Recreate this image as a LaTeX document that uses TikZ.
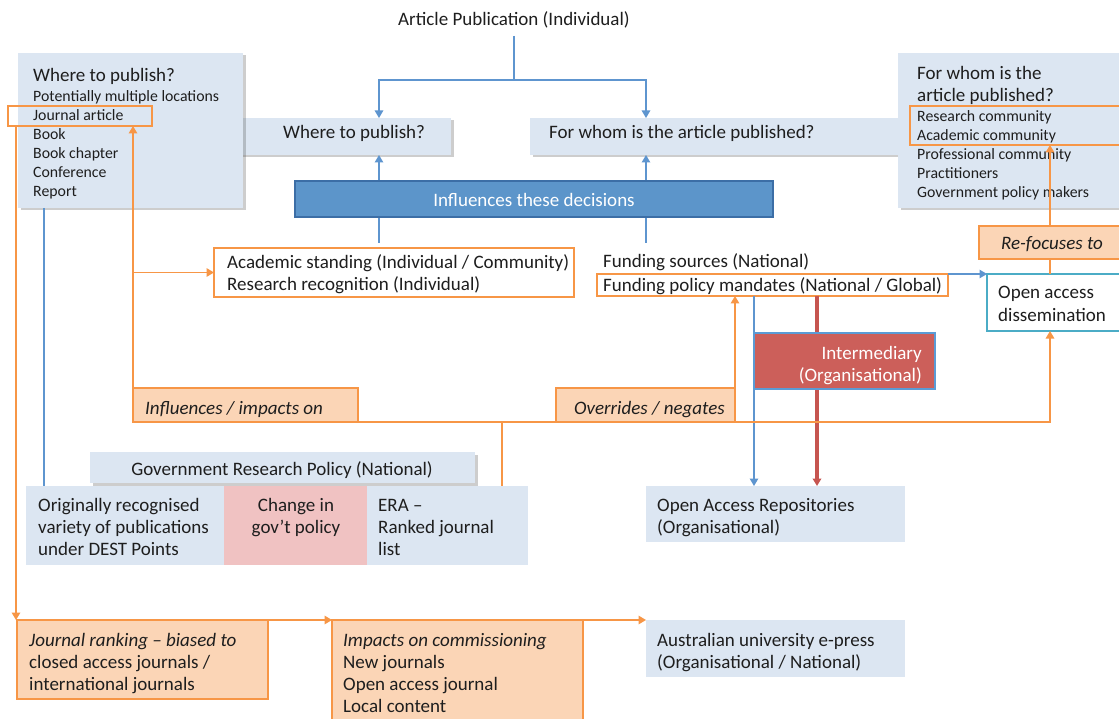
\documentclass[tikz,border=0pt]{standalone}
\usepackage{fontspec}
\setmainfont{Carlito}
\usetikzlibrary{arrows.meta,shadows}

\definecolor{palec}{HTML}{DCE6F2}
\definecolor{ofillc}{HTML}{FBD5B6}
\definecolor{olinec}{HTML}{F79646}
\definecolor{blinec}{HTML}{5E95CF}
\definecolor{itdfill}{HTML}{5C95CA}
\definecolor{itdline}{HTML}{3C6EA6}
\definecolor{interfill}{HTML}{CC5F5A}
\definecolor{interline}{HTML}{5B9BD5}
\definecolor{redlinec}{HTML}{C65550}
\definecolor{pinkc}{HTML}{F0C2C2}
\definecolor{oacyan}{HTML}{4BACC6}
\definecolor{txtc}{HTML}{1E1E1E}

\newcommand\mainsz{\fontsize{19}{22}\selectfont}
\newcommand\smallsz{\fontsize{15.8}{19}\selectfont}
\newcommand\rows[1]{\begin{tabular}[t]{@{}l@{}}#1\end{tabular}}
\newcommand\crows[1]{\begin{tabular}[t]{@{}c@{}}#1\end{tabular}}
\newcommand\rrows[1]{\begin{tabular}[t]{@{}r@{}}#1\end{tabular}}
% \panel{name}{style}{x1}{y1}{x2}{y2}: a box given by its corners
\newcommand\panel[6]{\node[panelbase,#2,minimum width={#5-#3},minimum height={#6-#4}] (#1) at (#3,#4) {};}

\begin{document}
\begin{tikzpicture}[x=1pt,y=-1pt,font=\mainsz,text=txtc,
  panelbase/.style={rectangle,inner sep=0pt,outer sep=0pt,anchor=north west},
  palebox/.style={fill=palec},
  dropsh/.style={drop shadow={shadow xshift=2.5pt,shadow yshift=-2.5pt,opacity=0.28,fill=black!70}},
  obox/.style={draw=olinec,line width=1.6pt},
  ofill/.style={fill=ofillc,draw=olinec,line width=1.6pt},
  lbl/.style={inner sep=0pt,anchor=base west},
  clbl/.style={inner sep=0pt,anchor=base},
  blueln/.style={draw=blinec,line width=1.2pt},
  orangeln/.style={draw=olinec,line width=1.5pt},
  redln/.style={draw=redlinec,line width=3.4pt},
  arr/.style={-{Triangle[length=7.5pt,width=8.5pt]}}]
\useasboundingbox (0,0) rectangle (1119,719);
\clip (0,0) rectangle (1119,719);
\fill[white] (0,0) rectangle (1119,719);

% ---- top: the two decisions ----
\node[clbl] (title) at (514,26) {Article Publication (Individual)};
\coordinate (split) at (511,80);
\coordinate (wx) at (379,0);
\coordinate (fx) at (646,0);

\panel{wtp}{palebox,dropsh}{230}{118}{451}{155}
\node[lbl] (wtp-t) at (283,139) {Where to publish?};
\panel{fw}{palebox,dropsh}{530}{118}{920}{155}
\node[lbl] (fw-t) at (549,139) {For whom is the article published?};

\draw[blueln] ([yshift=-7pt]title.south) -- (title.south |- split);
\draw[blueln,arr] (title.south |- split) -| (wx |- wtp.north);
\draw[blueln,arr] (title.south |- split) -| (fx |- fw.north);

% ---- left list: where to publish ----
\panel{lb}{palebox,dropsh}{18}{53}{243}{208}
\node[lbl] (lb-t) at (33,82) {Where to publish?};
\node[lbl,font=\smallsz] (lb-l) at (33,102) {\rows{Potentially multiple locations\\Journal article\\Book\\Book chapter\\Conference\\Report}};
\panel{ja}{obox}{8}{106}{152}{126}

% ---- right list: for whom ----
\panel{rb}{palebox,dropsh}{898}{53}{1140}{208}
\node[lbl] (rb-t) at (917,80) {\rows{For whom is the\\article published?}};
\node[lbl,font=\smallsz] (rb-l) at (917,122) {\rows{Research community\\Academic community\\Professional community\\Practitioners\\Government policy makers}};
\panel{rc}{obox}{910}{106}{1140}{145}

% ---- influences on the decisions ----
\panel{acad}{obox,fill=white}{214}{248}{574}{297}
\node[lbl] (acad-t) at (227,269) {\rows{Academic standing (Individual / Community)\\Research recognition (Individual)}};
\node[lbl] (fs) at (603,268) {Funding sources (National)};
\panel{fpm}{obox}{597}{274}{948}{296}
\node[lbl] (fpm-t) at (603,291) {Funding policy mandates (National / Global)};

\coordinate (wfoot) at (379,243);
\coordinate (ffoot) at (646,243);
\draw[blueln,arr] (wfoot) -- (wfoot |- wtp.south);
\draw[blueln,arr] (ffoot) -- (ffoot |- fw.south);

\panel{itd}{fill=itdfill,draw=itdline,line width=1.6pt}{295}{181}{773}{217}
\node[clbl,text=white] (itd-t) at (534,207) {Influences these decisions};

% ---- open access dissemination ----
\coordinate (ox) at (1050,0);
\panel{oad}{draw=oacyan,line width=2.4pt,fill=white}{987}{274}{1140}{331}
\node[lbl] (oad-t) at (998,299) {\rows{Open access\\dissemination}};
\draw[orangeln,arr] (oad.north -| ox) -- (rc.south -| ox);
\panel{refoc}{ofill}{979}{226}{1140}{259}
\node[clbl] (refoc-t) at (1052,250) {\textit{Re-focuses to}};
\draw[blueln,arr] (fpm.north east) -- (fpm.north east -| oad.west);

% ---- repositories and intermediary ----
\panel{oar}{palebox}{646}{486}{905}{542}
\node[lbl] (oar-t) at (657,511) {\rows{Open Access Repositories\\(Organisational)}};
\coordinate (rx) at (817,0);
\panel{inter}{fill=interfill,draw=interline,line width=2pt}{754}{333}{935}{389}
\draw[redln,arr] (fpm.south -| rx) -- (oar.north -| rx);
\draw[blueln,arr] (fpm.south -| inter.west) -- (oar.north -| inter.west);
\path[fill=interfill,draw=interline,line width=2pt] (inter.north west) rectangle (inter.south east);
\node[inner sep=0pt,anchor=base east,text=white] (inter-t) at (922,359) {\rrows{Intermediary\\(Organisational)}};

% ---- government research policy ----
\panel{grp}{palebox,dropsh}{90}{452}{475}{483}
\node[clbl] (grp-t) at (282,475) {Government Research Policy (National)};
\panel{orig}{palebox}{26}{486}{224}{565}
\panel{chg}{fill=pinkc}{224}{486}{367}{565}
\panel{era}{palebox}{367}{486}{528}{565}
\node[lbl] (orig-t) at (38,511) {\rows{Originally recognised\\variety of publications\\under DEST Points}};
\node[clbl] (chg-t) at (296,511) {\crows{Change in\\gov’t policy}};
\node[lbl] (era-t) at (378,511) {\rows{ERA –\\Ranked journal\\list}};

% ---- impact labels and their links ----
\panel{infl}{ofill}{133}{388}{358}{422}
\node[lbl] (infl-t) at (145,414) {\textit{Influences / impacts on}};
\panel{over}{ofill}{556}{388}{735}{422}
\node[lbl] (over-t) at (574,414) {\textit{Overrides / negates}};

\coordinate (gx) at (502,0);
\coordinate (jx) at (16,0);
\coordinate (lx) at (44,0);
\draw[orangeln] (infl.south east) -- (over.south west);
\draw[orangeln,arr] (over.south east) -| (ox |- oad.south);
\draw[orangeln] (gx |- infl.south) -- (gx |- era.north);
\draw[orangeln,arr] (over.north east) -- (over.north east |- fpm.south);
\draw[orangeln,arr] (infl.north west) -- (infl.north west |- ja.south);
\draw[orangeln,arr] (infl.north west |- acad.west) -- (acad.west);
\draw[blueln] (lb.south -| lx) -- (orig.north -| lx);

% ---- bottom row ----
\panel{jr}{ofill}{17}{620}{268}{699}
\node[lbl] (jr-t) at (29,646) {\rows{\textit{Journal ranking – biased to}\\closed access journals /\\international journals}};
\panel{imp}{ofill}{332}{620}{583}{740}
\node[lbl] (imp-t) at (343,646) {\rows{\textit{Impacts on commissioning}\\New journals\\Open access journal\\Local content}};
\panel{aus}{palebox}{646}{620}{905}{677}
\node[lbl] (aus-t) at (657,646) {\rows{Australian university e-press\\(Organisational / National)}};

\draw[orangeln,arr] (ja.south -| jx) -- (jr.north -| jx);
\draw[orangeln,arr] (jr.north east) -- (jr.north east -| imp.west);
\draw[orangeln,arr] (imp.north east) -- (imp.north east -| aus.west);
\end{tikzpicture}
\end{document}
